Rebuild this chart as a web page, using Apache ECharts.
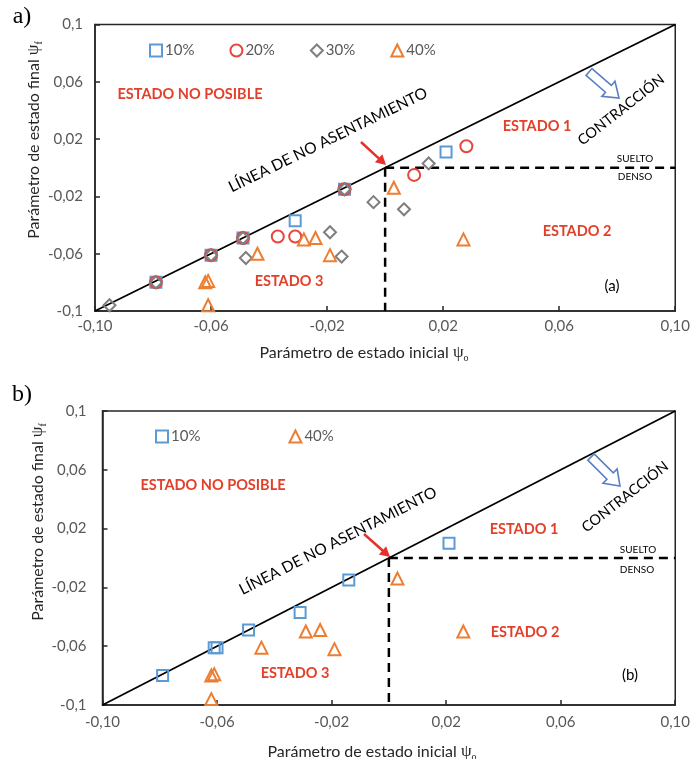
<!DOCTYPE html>
<html><head><meta charset="utf-8">
<script src="https://cdn.jsdelivr.net/npm/echarts@6/dist/echarts.min.js"></script>
<style>html,body{margin:0;padding:0;background:#fff}#c{width:693px;height:759px}</style>
</head><body><div id="c"></div>
<script>
// ---- data ----
const xTickLabels = ['-0,10','-0,06','-0,02','0,02','0,06','0,10'];
const yTickLabels = ['-0,1','-0,06','-0,02','0,02','0,06','0,1'];
const seriesNames = ['10%','20%','30%','40%'];
// panel (a)
const a10 = [[-0.079,-0.080],[-0.060,-0.061],[-0.049,-0.049],[-0.031,-0.037],[-0.014,-0.015],[0.021,0.011]];
const a20 = [[-0.079,-0.080],[-0.060,-0.061],[-0.049,-0.049],[-0.037,-0.048],[-0.031,-0.048],[-0.014,-0.015],[0.010,-0.005],[0.028,0.015]];
const a30 = [[-0.095,-0.096],[-0.079,-0.080],[-0.060,-0.061],[-0.049,-0.049],[-0.048,-0.063],[-0.019,-0.045],[-0.015,-0.062],[-0.014,-0.015],[-0.004,-0.024],[0.0065,-0.029],[0.015,0.003]];
const a40 = [[-0.062,-0.080],[-0.061,-0.079],[-0.061,-0.096],[-0.044,-0.060],[-0.028,-0.050],[-0.024,-0.049],[-0.019,-0.061],[0.003,-0.014],[0.027,-0.050]];
// panel (b)
const b10 = [[-0.079,-0.080],[-0.061,-0.061],[-0.060,-0.061],[-0.049,-0.049],[-0.031,-0.037],[-0.014,-0.015],[0.021,0.010]];
const b40 = [[-0.062,-0.080],[-0.061,-0.079],[-0.062,-0.096],[-0.0445,-0.061],[-0.029,-0.050],[-0.024,-0.049],[-0.019,-0.062],[0.003,-0.014],[0.026,-0.050]];
// reference lines
const diagLine = [[-0.1,-0.1],[0.1,0.1]];
const vDash = [[0,0],[0,-0.1]];
const hDash = [[0,0],[0.1,0]];

// ---- styles ----
const FONT = 'Lato';
const RED = '#e2402a';
const colors = {'10%':'#5b9bd5','20%':'#e8453c','30%':'#7f7f7f','40%':'#ed7d31'};
const symbols = {'10%':'rect','20%':'circle','30%':'diamond','40%':'triangle'};
const sizes = {'10%':11,'20%':12,'30%':12,'40%':12};

function tickIdx(v){ return Math.round((v+0.1)/0.04); }
function xAx(gi, margin){
  return {gridIndex:gi, type:'value', min:-0.1, max:0.1, interval:0.04,
    axisLine:{show:true, onZero:false, lineStyle:{color:'#262626', width:1.5}},
    axisTick:{show:true, inside:true, length:5, lineStyle:{color:'#262626', width:1.5}},
    splitLine:{show:false},
    axisLabel:{margin:margin, color:'#595959', fontFamily:FONT, fontSize:15,
      formatter:v=>xTickLabels[tickIdx(v)]}};
}
function yAx(gi, margin){
  return {gridIndex:gi, type:'value', min:-0.1, max:0.1, interval:0.04,
    axisLine:{show:true, onZero:false, lineStyle:{color:'#262626', width:1.5}},
    axisTick:{show:true, inside:true, length:5, lineStyle:{color:'#262626', width:1.5}},
    splitLine:{show:false},
    axisLabel:{margin:margin, color:'#595959', fontFamily:FONT, fontSize:15,
      formatter:v=>yTickLabels[tickIdx(v)]}};
}
function scat(name, data, gi){
  return {type:'scatter', name:name, xAxisIndex:gi, yAxisIndex:gi, data:data,
    symbol:symbols[name], symbolSize:sizes[name], z:3,
    itemStyle:{color:'rgba(255,255,255,0)', borderColor:colors[name], borderWidth:2, opacity:1},
    emphasis:{disabled:true}};
}
function ln(data, gi, dashed){
  return {type:'line', xAxisIndex:gi, yAxisIndex:gi, data:data, showSymbol:false, symbol:'none', silent:true, z:2,
    lineStyle:dashed?{color:'#000', width:2.5, type:[9,6]}:{color:'#000', width:1.8}};
}
function txt(x,y,s,opt){
  opt = opt||{};
  return {type:'text', x:x, y:y, rotation:(opt.rot||0)*Math.PI/180, z:10,
    style:{text:s, x:0, y:0, align:'center', verticalAlign:'middle', fill:opt.color||'#000',
      font:(opt.bold?'bold ':'')+(opt.size||14)+'px '+(opt.family||FONT)}};
}
function redArrow(x1,y1,x2,y2){
  const ang = Math.atan2(y2-y1, x2-x1);
  const L = Math.hypot(x2-x1,y2-y1);
  return {type:'group', x:x1, y:y1, rotation:-ang, z:10, children:[
    {type:'line', shape:{x1:0,y1:0,x2:L-8,y2:0}, style:{stroke:'#e8302a', lineWidth:2.5}},
    {type:'polygon', shape:{points:[[L,0],[L-10,-5.5],[L-10,5.5]]}, style:{fill:'#e8302a'}}
  ]};
}
function blueArrow(x1,y1,x2,y2){
  const ang = Math.atan2(y2-y1, x2-x1);
  const L = Math.hypot(x2-x1,y2-y1);
  const hl = 14;
  return {type:'polygon', x:x1, y:y1, rotation:-ang, z:10,
    shape:{points:[[0,-4.5],[L-hl,-4.5],[L-hl,-10],[L,0],[L-hl,10],[L-hl,4.5],[0,4.5]]},
    style:{fill:'#fff', stroke:'#5a7fc2', lineWidth:1.6}};
}
function richTitle(x,y,main,sub,rot){
  return {type:'text', x:x, y:y, rotation:(rot||0)*Math.PI/180, z:10,
    style:{text:'{a|'+main+'}{p|ψ}{s|'+sub+'}', x:0, y:0, align:'center', verticalAlign:'middle',
      rich:{a:{fontFamily:FONT, fontSize:16, fill:'#262626', lineHeight:20},
            p:{fontFamily:'Liberation Serif', fontSize:17, fill:'#262626', lineHeight:20},
            s:{fontFamily:'Liberation Serif', fontSize:10, fill:'#262626', lineHeight:10, verticalAlign:'bottom'}}}};
}

const chart = echarts.init(document.getElementById('c'), null, {renderer:'canvas'});
const option = {
  backgroundColor:'#fff',
  animation:false,
  grid:[
    {left:95, top:24.5, width:581, height:286.5, show:true, borderColor:'#262626', borderWidth:1.5},
    {left:102.5, top:411, width:574, height:294, show:true, borderColor:'#262626', borderWidth:1.5}
  ],
  xAxis:[xAx(0,8), xAx(1,10)],
  yAxis:[yAx(0,12), yAx(1,16)],
  legend:[
    {data:seriesNames, left:144, top:38, itemWidth:12, itemHeight:12, itemGap:35,
     textStyle:{color:'#595959', fontFamily:FONT, fontSize:15, padding:[0,0,0,-2]}, selectedMode:false},
    {data:['10%','40%'], left:150, top:424, itemWidth:12, itemHeight:12, itemGap:88,
     textStyle:{color:'#595959', fontFamily:FONT, fontSize:15, padding:[0,0,0,-2]}, selectedMode:false}
  ],
  series:[
    ln(diagLine,0,false), ln(vDash,0,true), ln(hDash,0,true),
    scat('10%',a10,0), scat('20%',a20,0), scat('30%',a30,0), scat('40%',a40,0),
    ln(diagLine,1,false), ln(vDash,1,true), ln(hDash,1,true),
    scat('10%',b10,1), scat('40%',b40,1)
  ],
  graphic:[
    // panel a
    txt(22,17,'a)',{size:24, family:'Liberation Serif'}),
    txt(190,94,'ESTADO NO POSIBLE',{bold:true,color:RED,size:14.5}),
    txt(328,140,'LÍNEA DE NO ASENTAMIENTO',{size:15.5,rot:26}),
    txt(537,126,'ESTADO 1',{bold:true,color:RED,size:14.5}),
    txt(621,110,'CONTRACCIÓN',{size:14.5,rot:38}),
    txt(635,159,'SUELTO',{size:10}),
    txt(635,177,'DENSO',{size:10}),
    txt(577,231,'ESTADO 2',{bold:true,color:RED,size:14.5}),
    txt(289,281,'ESTADO 3',{bold:true,color:RED,size:14.5}),
    txt(612,286,'(a)',{size:15}),
    redArrow(361,142,386,165),
    blueArrow(589,72,619,98),
    richTitle(34,140,'Parámetro de estado final ','f',90),
    richTitle(364,353,'Parámetro de estado inicial ','o',0),
    // panel b
    txt(22,395,'b)',{size:24, family:'Liberation Serif'}),
    txt(213,485,'ESTADO NO POSIBLE',{bold:true,color:RED,size:14.5}),
    txt(338,541,'LÍNEA DE NO ASENTAMIENTO',{size:15.5,rot:27}),
    txt(524,529,'ESTADO 1',{bold:true,color:RED,size:14.5}),
    txt(625,497,'CONTRACCIÓN',{size:14.5,rot:38}),
    txt(638,550,'SUELTO',{size:10}),
    txt(637,570,'DENSO',{size:10}),
    txt(525,632,'ESTADO 2',{bold:true,color:RED,size:14.5}),
    txt(295,673,'ESTADO 3',{bold:true,color:RED,size:14.5}),
    txt(630,675,'(b)',{size:15}),
    redArrow(364,534,390,557),
    blueArrow(591,457,620,486),
    richTitle(38,522,'Parámetro de estado final ','f',90),
    richTitle(372,752,'Parámetro de estado inicial ','o',0)
  ]
};
chart.setOption(option);
</script></body></html>
